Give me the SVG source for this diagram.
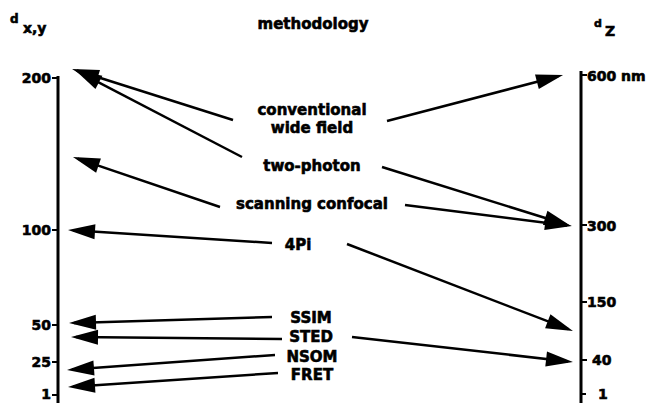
<svg xmlns="http://www.w3.org/2000/svg" width="650" height="403" viewBox="0 0 650 403">
<style>
text{font-family:"DejaVu Sans","Liberation Sans",sans-serif;font-weight:bold;fill:#000;stroke:#000;stroke-width:0.6}
.lbl{font-size:15px;text-anchor:middle}
.ax{font-size:14px}
.axl{font-size:14px;text-anchor:end}
.arr{stroke:#000;stroke-width:2.5;fill:none;marker-end:url(#ah)}
.axis{stroke:#000;stroke-width:3;fill:none}
.tick{stroke:#000;stroke-width:2;fill:none}
</style>
<defs>
<marker id="ah" markerUnits="userSpaceOnUse" markerWidth="30" markerHeight="16" refX="22" refY="7.5" orient="auto" overflow="visible">
<path d="M0,0 L27,7.5 L0,15 Z" fill="#000"/>
</marker>
</defs>
<rect width="650" height="403" fill="#fff"/>
<g id="header">
<text x="10" y="23" style="font-size:12px">d</text>
<text x="23" y="33" style="font-size:14px">x,y</text>
<text x="313" y="29" class="lbl">methodology</text>
<text x="594" y="27" style="font-size:11px">d</text>
<text x="605" y="36" style="font-size:14px">Z</text>
</g>
<g id="left-axis">
<line class="axis" x1="58" y1="76" x2="58" y2="403"/>
<line class="tick" x1="52" y1="78" x2="58" y2="78"/>
<line class="tick" x1="52" y1="230" x2="58" y2="230"/>
<line class="tick" x1="52" y1="325" x2="58" y2="325"/>
<line class="tick" x1="52" y1="362" x2="58" y2="362"/>
<line class="tick" x1="52" y1="395" x2="58" y2="395"/>
<text class="axl" x="51" y="399">1</text>
<text class="axl" x="51" y="83">200</text>
<text class="axl" x="51" y="235">100</text>
<text class="axl" x="51" y="330">50</text>
<text class="axl" x="51" y="367">25</text>
</g>
<g id="right-axis">
<line class="axis" x1="581" y1="71" x2="581" y2="403"/>
<line class="tick" x1="581" y1="75" x2="587" y2="75"/>
<line class="tick" x1="581" y1="225" x2="587" y2="225"/>
<line class="tick" x1="581" y1="302" x2="587" y2="302"/>
<line class="tick" x1="581" y1="360" x2="587" y2="360"/>
<line class="tick" x1="581" y1="394" x2="586" y2="394"/>
<text class="ax" x="587" y="81">600 nm</text>
<text class="ax" x="587" y="231">300</text>
<text class="ax" x="587" y="307">150</text>
<text class="ax" x="592" y="365">40</text>
<text class="ax" x="598" y="399">1</text>
</g>
<g id="conventional-wide-field">
<text class="lbl" x="312" y="115">conventional</text>
<text class="lbl" x="312" y="133">wide field</text>
</g>
<g id="two-photon"><text class="lbl" x="312" y="171">two-photon</text></g>
<g id="scanning-confocal"><text class="lbl" x="312" y="209">scanning confocal</text></g>
<g id="fourpi"><text class="lbl" x="298" y="250">4Pi</text></g>
<g id="ssim"><text class="lbl" x="311" y="323">SSIM</text></g>
<g id="sted"><text class="lbl" x="311" y="342">STED</text></g>
<g id="nsom"><text class="lbl" x="312" y="362">NSOM</text></g>
<g id="fret"><text class="lbl" x="312" y="380">FRET</text></g>
<g id="connectors">
<line class="arr" x1="233" y1="120" x2="76.8" y2="70.5"/>
<line class="arr" x1="242" y1="157" x2="79.4" y2="72.3"/>
<line class="arr" x1="220" y1="207" x2="77.7" y2="158.6"/>
<line class="arr" x1="272" y1="243" x2="73" y2="230.3"/>
<line class="arr" x1="272" y1="317" x2="74" y2="322.9"/>
<line class="arr" x1="282" y1="339" x2="76" y2="337.05"/>
<line class="arr" x1="275" y1="355" x2="72" y2="369.6"/>
<line class="arr" x1="278" y1="373" x2="73" y2="386.7"/>
<line class="arr" x1="387" y1="121" x2="558.2" y2="76.3"/>
<line class="arr" x1="382" y1="167" x2="566.2" y2="224.5"/>
<line class="arr" x1="405" y1="205" x2="567" y2="225.4"/>
<line class="arr" x1="347" y1="244" x2="568.3" y2="329.2"/>
<line class="arr" x1="352" y1="337" x2="568" y2="361.4"/>
</g>
</svg>
